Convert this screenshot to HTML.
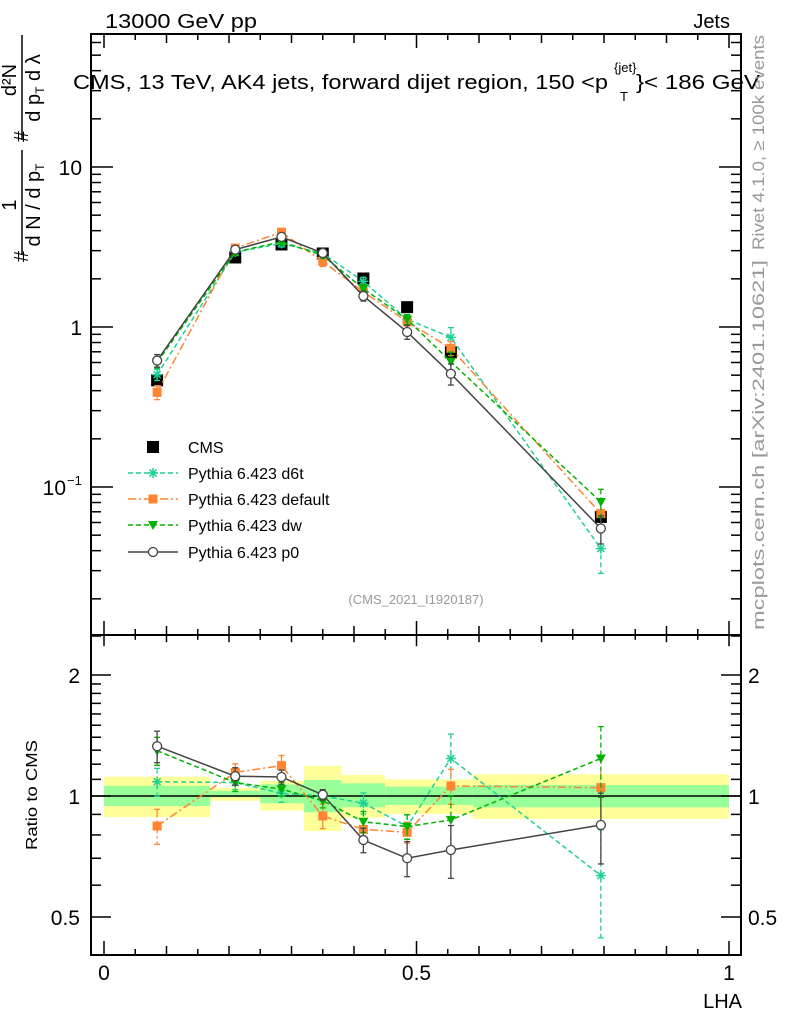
<!DOCTYPE html>
<html><head><meta charset="utf-8"><style>
body{margin:0;background:#fff;}
svg{display:block;font-family:"Liberation Sans",sans-serif;}
</style></head><body>
<svg id="c" width="786" height="1024" viewBox="0 0 786 1024">
<g id="bands"></g><g id="grid"></g><g id="series"></g><g id="axes"></g>
<text x="105" y="28" font-size="20" textLength="152" lengthAdjust="spacingAndGlyphs">13000 GeV pp</text>
<text x="730" y="28" font-size="20" text-anchor="end">Jets</text>
<g font-size="20">
<text x="73" y="89" textLength="535" lengthAdjust="spacingAndGlyphs">CMS, 13 TeV, AK4 jets, forward dijet region, 150 &lt;p</text>
<text x="614" y="72" font-size="13">{jet}</text>
<text x="620" y="101" font-size="13">T</text>
<text x="636" y="89" textLength="124" lengthAdjust="spacingAndGlyphs">}&lt; 186 GeV</text>
</g>
<g font-size="20">
<text transform="translate(28,262) rotate(-90)">#</text>
<text transform="translate(16,205) rotate(-90)" text-anchor="middle">1</text>
<line x1="22" y1="150" x2="22" y2="255" stroke="#000" stroke-width="1.5"/>
<text transform="translate(40,205) rotate(-90)" text-anchor="middle">d N / d p<tspan font-size="12" dy="4">T</tspan></text>
<text transform="translate(28,142) rotate(-90)">#</text>
<text transform="translate(16,80) rotate(-90)" text-anchor="middle">d²N</text>
<line x1="22" y1="35" x2="22" y2="140" stroke="#000" stroke-width="1.5"/>
<text transform="translate(40,88) rotate(-90)" text-anchor="middle">d p<tspan font-size="12" dy="4">T</tspan><tspan dy="-4"> d λ</tspan></text>
</g>
<text transform="translate(37,795) rotate(-90)" font-size="16" text-anchor="middle" textLength="110" lengthAdjust="spacingAndGlyphs">Ratio to CMS</text>
<text x="742" y="1008" font-size="20" text-anchor="end">LHA</text>
<text x="416" y="604" font-size="13" fill="#999" text-anchor="middle">(CMS_2021_I1920187)</text>
<text transform="translate(764,250) rotate(-90)" font-size="17" fill="#999" textLength="215" lengthAdjust="spacingAndGlyphs">Rivet 4.1.0, ≥ 100k events</text>
<text transform="translate(764,630) rotate(-90)" font-size="17" fill="#999" textLength="370" lengthAdjust="spacingAndGlyphs">mcplots.cern.ch [arXiv:2401.10621]</text>
<g id="legend"></g>
</svg>
<script>
const xs=[0.085,0.21,0.284,0.35,0.415,0.485,0.555,0.795];
const cms=[0.464,2.72,3.28,2.88,2.01,1.33,0.695,0.065];
const rP0=[1.33,1.12,1.115,1.007,0.777,0.70,0.734,0.847];
const rD6t=[1.085,1.08,1.015,1.0,0.96,0.84,1.24,0.634];
const rDef=[0.842,1.145,1.19,0.892,0.826,0.812,1.059,1.049];
const rDw=[1.296,1.08,1.04,0.973,0.863,0.839,0.872,1.24];
const eP0=[0.09,0.05,0.04,0.03,0.07,0.1,0.15,0.2];
const eD6t=[0.08,0.04,0.05,0.03,0.06,0.07,0.15,0.3];
const eDef=[0.1,0.05,0.06,0.07,0.06,0.06,0.1,0.2];
const eDw=[0.08,0.05,0.04,0.04,0.06,0.07,0.15,0.2];
const binEdges=[0,0.17,0.25,0.32,0.38,0.45,0.59,1.0];
const yelHi=[1.117,1.048,1.09,1.188,1.128,1.1,1.132];
const yelLo=[0.886,0.973,0.92,0.818,0.883,0.902,0.877];
const grnHi=[1.06,1.03,1.069,1.096,1.075,1.055,1.065];
const grnLo=[0.944,0.993,0.959,0.911,0.937,0.95,0.937];

const NS="http://www.w3.org/2000/svg";
const L=91,R=741,T=34,M=635,B=955;
const X=v=>104+v*625;
const Y=v=>327-160*Math.log10(v);
const RY=v=>796-121*Math.log2(v);
function mk(p,tag,at){const e=document.createElementNS(NS,tag);for(const k in at)e.setAttribute(k,at[k]);p.appendChild(e);return e;}
const bands=document.getElementById('bands'),axes=document.getElementById('axes'),ser=document.getElementById('series'),leg=document.getElementById('legend');

for(let i=0;i<binEdges.length-1;i++){
 let r=mk(bands,'rect',{x:X(binEdges[i]),y:RY(yelHi[i]),width:X(binEdges[i+1])-X(binEdges[i]),height:RY(yelLo[i])-RY(yelHi[i]),fill:'#ffff99'});
 
 
 let g=mk(bands,'rect',{x:X(binEdges[i]),y:RY(grnHi[i]),width:X(binEdges[i+1])-X(binEdges[i]),height:RY(grnLo[i])-RY(grnHi[i]),fill:'#99ff99'});
 
 
}
let one=mk(bands,'line',{x1:L,x2:R,y1:RY(1),y2:RY(1),stroke:'#000','stroke-width':1.5});



let f1=mk(axes,'rect',{x:L,y:T,width:R-L,height:M-T,fill:'none',stroke:'#000','stroke-width':2});


let f2=mk(axes,'rect',{x:L,y:M,width:R-L,height:B-M,fill:'none',stroke:'#000','stroke-width':2});


function tk(x1,y1,x2,y2){let t=mk(axes,'line',{x1,y1,x2,y2,stroke:'#000','stroke-width':1.5});}
for(let k=0;k<=20;k++){const v=k*0.05,x=X(v),len=(k%10==0)?14:(k%2==0?9:6);
 tk(x,M,x,M-len);tk(x,T,x,T+len);tk(x,B,x,B-len);tk(x,M,x,M+len*0.8);}
for(let d=-2;d<=1;d++)for(let m=1;m<10;m++){const v=m*Math.pow(10,d),y=Y(v);if(y<T||y>M)continue;const len=m==1?22:10;tk(L,y,L+len,y);tk(R,y,R-len,y);}
[0.5,0.6,0.7,0.8,0.9,1,1.1,1.2,1.3,1.4,1.5,1.6,1.7,1.8,1.9,2,2.5].forEach(v=>{const y=RY(v);if(y<M||y>B)return;const len=(v==0.5||v==1||v==2)?20:10;tk(L,y,L+len,y);tk(R,y,R-len,y);});
function lab(x,y,s,anchor,name){let t=mk(axes,'text',{x,y,'font-size':21,'text-anchor':anchor});t.textContent=s;return t;}
lab(82,Y(10)+8,'10','end','y-tick-label');lab(82,Y(1)+8,'1','end','y-tick-label');
let tl=lab(82,Y(0.1)+8,'10','end','y-tick-label');tl.setAttribute('x',66);
let sup=mk(axes,'text',{x:67,y:Y(0.1)-2,'font-size':13});sup.textContent='−1';
[[2,'2'],[1,'1'],[0.5,'0.5']].forEach(([v,s])=>{lab(80,RY(v)+8,s,'end','ratio-tick-label');lab(748,RY(v)+8,s,'start','ratio-tick-label');});
[[0,'0'],[0.5,'0.5'],[1,'1']].forEach(([v,s])=>lab(X(v),980,s,'middle','x-tick-label'));

function marker(g,type,x,y,col){
 if(type=='sq')mk(g,'rect',{x:x-6,y:y-6,width:12,height:12,fill:col});
 else if(type=='osq')mk(g,'rect',{x:x-4.5,y:y-4.5,width:9,height:9,fill:col});
 else if(type=='tri')mk(g,'path',{d:`M${x-5},${y-4}L${x+5},${y-4}L${x},${y+5}Z`,fill:col});
 else if(type=='circ')mk(g,'circle',{cx:x,cy:y,r:4.5,fill:'#fff',stroke:col,'stroke-width':1.3});
 else if(type=='star'){for(let a=0;a<4;a++){const t=a*Math.PI/4;mk(g,'line',{x1:x-5*Math.cos(t),y1:y-5*Math.sin(t),x2:x+5*Math.cos(t),y2:y+5*Math.sin(t),stroke:col,'stroke-width':1.5});}}
}
const series=[
 {name:'d6t',r:rD6t,e:eD6t,col:'#1fd192',dash:'5,3',m:'star',lab:'Pythia 6.423 d6t'},
 {name:'default',r:rDef,e:eDef,col:'#ff8533',dash:'8,3,2,3',m:'osq',lab:'Pythia 6.423 default'},
 {name:'dw',r:rDw,e:eDw,col:'#00b300',dash:'5,3',m:'tri',lab:'Pythia 6.423 dw'},
 {name:'p0',r:rP0,e:eP0,col:'#444',dash:'',m:'circ',lab:'Pythia 6.423 p0'}];
const gc=mk(ser,'g',{});


xs.forEach((x,i)=>marker(gc,'sq',X(x),Y(cms[i]),'#000'));
series.forEach(s=>{
 const g=mk(ser,'g',{});
 
 
 const vals=xs.map((x,i)=>cms[i]*s.r[i]);
 const at={fill:'none',stroke:s.col,'stroke-width':1.5};if(s.dash)at['stroke-dasharray']=s.dash;
 mk(g,'polyline',Object.assign({points:xs.map((x,i)=>X(x)+','+Y(vals[i])).join(' ')},at));
 mk(g,'polyline',Object.assign({points:xs.map((x,i)=>X(x)+','+RY(s.r[i])).join(' ')},at));
 xs.forEach((x,i)=>{
  const px=X(x);
  [[Y,vals[i]],[RY,s.r[i]]].forEach(([f,v])=>{
   const y1=f(v*(1+s.e[i])),y2=f(v*(1-s.e[i]));
   const ea={x1:px,x2:px,y1,y2,stroke:s.col,'stroke-width':1.3};if(s.dash)ea['stroke-dasharray']=s.dash;
   mk(g,'line',ea);
   mk(g,'line',{x1:px-3,x2:px+3,y1,y2:y1,stroke:s.col,'stroke-width':1.3});
   mk(g,'line',{x1:px-3,x2:px+3,y1:y2,y2:y2,stroke:s.col,'stroke-width':1.3});
   marker(g,s.m,px,f(v),s.col);
  });
 });
});
const ly=[447,473,499,525,552];
const lgc=mk(leg,'g',{});


marker(lgc,'sq',153,ly[0],'#000');
let t0=mk(lgc,'text',{x:188,y:ly[0]+6,'font-size':16});t0.textContent='CMS';
series.forEach((s,i)=>{
 const g=mk(leg,'g',{});
 
 
 const y=ly[i+1];const at={x1:128,x2:178,y1:y,y2:y,stroke:s.col,'stroke-width':1.5};if(s.dash)at['stroke-dasharray']=s.dash;
 mk(g,'line',at);marker(g,s.m,153,y,s.col);
 const t=mk(g,'text',{x:188,y:y+6,'font-size':16});t.textContent=s.lab;
});
</script>
</body></html>
